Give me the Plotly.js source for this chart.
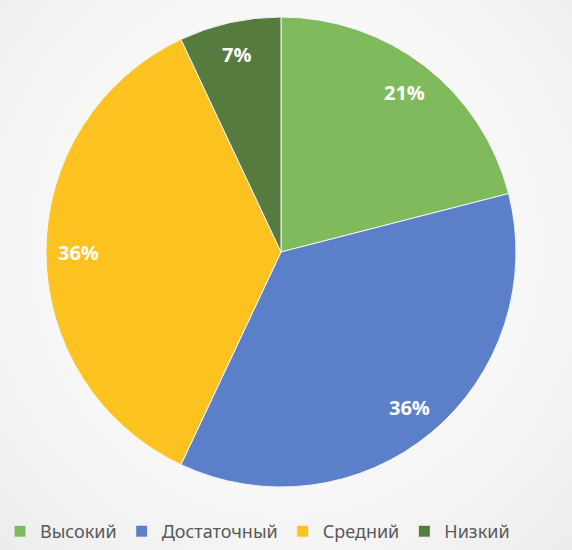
<!DOCTYPE html>
<html>
<head>
<meta charset="utf-8">
<script src="https://cdn.plot.ly/plotly-3.0.1.min.js"></script>
<style>
html, body { margin: 0; padding: 0; }
body { width: 572px; height: 550px; background: radial-gradient(ellipse at 50% 45%, #ffffff 0%, #fafafa 45%, #ededed 100%); }
#chart { width: 572px; height: 550px; }
</style>
</head>
<body>
<div id="chart"></div>
<script>
const categories = ["Высокий", "Достаточный", "Средний", "Низкий"];
const values = [21, 36, 36, 7];
const colors = ["#7fbb5c", "#5b80c9", "#fcc320", "#557c3e"];

const W = 572, H = 550;
const dom = { x: [46 / W, 516 / W], y: [1 - 487 / H, 1 - 17 / H] };
const cx = (dom.x[0] + dom.x[1]) / 2, cy = (dom.y[0] + dom.y[1]) / 2;
const rx = (dom.x[1] - dom.x[0]) / 2, ry = (dom.y[1] - dom.y[0]) / 2;

const total = values.reduce((a, b) => a + b, 0);
const annotations = [];
let cum = 0;
const rFrac = 0.86;
values.forEach((v, i) => {
  const mid = (cum + v / 2) / total * 2 * Math.PI;
  cum += v;
  annotations.push({
    x: cx + rx * rFrac * Math.sin(mid),
    y: cy + ry * rFrac * Math.cos(mid),
    xref: "paper", yref: "paper",
    xanchor: "center", yanchor: "middle",
    text: Math.round(v / total * 100) + "%",
    showarrow: false,
    font: { family: "Open Sans", size: 20, color: "#ffffff", weight: "bold" }
  });
});

const data = [{
  type: "pie",
  labels: categories,
  values: values,
  sort: false,
  direction: "clockwise",
  rotation: 0,
  textinfo: "none",
  hoverinfo: "label+percent",
  domain: dom,
  marker: { colors: colors, line: { color: "#f4f4f4", width: 1 } }
}];

const layout = {
  width: W, height: H,
  margin: { l: 0, r: 0, t: 0, b: 0, autoexpand: false },
  paper_bgcolor: "rgba(0,0,0,0)",
  plot_bgcolor: "rgba(0,0,0,0)",
  showlegend: true,
  legend: {
    orientation: "h",
    x: 0, xanchor: "left",
    y: 0, yanchor: "bottom",
    font: { family: "Noto Sans", size: 18, color: "#595959" },
    itemwidth: 30,
    traceorder: "normal"
  },
  annotations: annotations
};

Plotly.newPlot("chart", data, layout, { displayModeBar: false });
</script>
</body>
</html>
